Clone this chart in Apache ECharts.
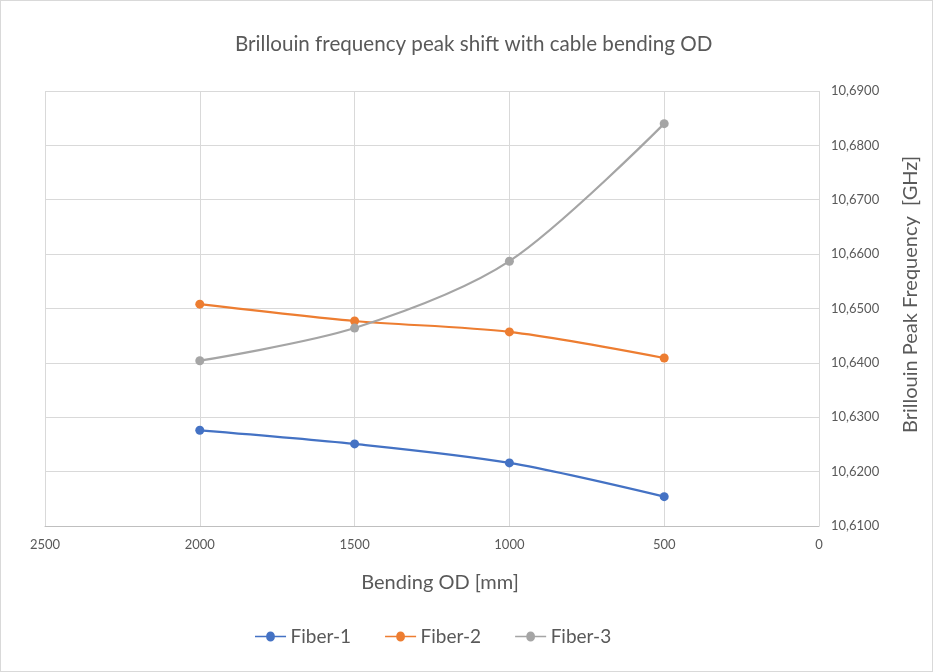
<!DOCTYPE html>
<html>
<head>
<meta charset="utf-8">
<script src="https://cdn.jsdelivr.net/npm/echarts@6/dist/echarts.min.js"></script>
<style>
html,body{margin:0;padding:0;background:#fff;}
#c{width:931px;height:670px;border:1px solid #d9d9d9;}
</style>
</head>
<body>
<div id="c"></div>
<script>
const bendingOD = [2000, 1500, 1000, 500];
const fiber1 = [10.6276, 10.6251, 10.6216, 10.6154];
const fiber2 = [10.6508, 10.6477, 10.6457, 10.6409];
const fiber3 = [10.6404, 10.6464, 10.6587, 10.6840];
const seriesNames = ['Fiber-1', 'Fiber-2', 'Fiber-3'];
const colors = ['#4472c4', '#ed7d31', '#a5a5a5'];

const font = 'Lato, "Open Sans", sans-serif';
const chart = echarts.init(document.getElementById('c'));
const mk = (name, vals, color) => ({
  name, type: 'line', smooth: 0.3,
  data: bendingOD.map((x, i) => [x, vals[i]]),
  symbol: 'circle', symbolSize: 9,
  lineStyle: {width: 2.2, color},
  itemStyle: {color},
  z: 3
});
chart.setOption({
  animation: false,
  textStyle: {fontFamily: font},
  title: {
    text: 'Brillouin frequency peak shift with cable bending OD',
    left: 229, top: 28,
    textStyle: {fontSize: 20.6, fontWeight: 'normal', color: '#595959', fontFamily: font}
  },
  legend: {
    bottom: 20, left: 249, itemGap: 34, itemWidth: 36, itemHeight: 10,
    icon: 'path://M0,4.2 L13,4.2 A5,5 0 0 1 23,4.2 L36,4.2 L36,5.8 L23,5.8 A5,5 0 0 1 13,5.8 L0,5.8 Z',
    textStyle: {fontSize: 19, color: '#595959', fontFamily: font, padding: [0, 0, 0, -3]},
    data: seriesNames
  },
  grid: {left: 44, right: 113, top: 90, bottom: 145, containLabel: false},
  xAxis: {
    type: 'value', inverse: true, min: 0, max: 2500, interval: 500,
    name: 'Bending OD [mm]', nameLocation: 'middle', nameGap: 47,
    nameTextStyle: {fontSize: 20, color: '#595959', fontFamily: font, padding: [0, 0, 0, 16]},
    axisLine: {show: true, lineStyle: {color: '#bfbfbf'}},
    axisTick: {show: false},
    axisLabel: {fontSize: 13, color: '#595959', margin: 12, fontFamily: font,
      formatter: v => String(v)},
    splitLine: {show: true, lineStyle: {color: '#d9d9d9', width: 1}}
  },
  yAxis: {
    type: 'value', position: 'right', min: 10.61, max: 10.69, interval: 0.01,
    name: 'Brillouin Peak Frequency  [GHz]', nameLocation: 'middle', nameGap: 82, nameRotate: 90,
    nameTextStyle: {fontSize: 20, color: '#595959', fontFamily: font, padding: [0, 0, 0, 28]},
    axisLine: {show: false}, axisTick: {show: false},
    axisLabel: {fontSize: 13, color: '#595959', margin: 12, fontFamily: font,
      formatter: v => v.toFixed(4).replace('.', ',')},
    splitLine: {show: true, lineStyle: {color: '#d9d9d9', width: 1}}
  },
  series: [mk(seriesNames[0], fiber1, colors[0]), mk(seriesNames[1], fiber2, colors[1]), mk(seriesNames[2], fiber3, colors[2])]
});
</script>
</body>
</html>
